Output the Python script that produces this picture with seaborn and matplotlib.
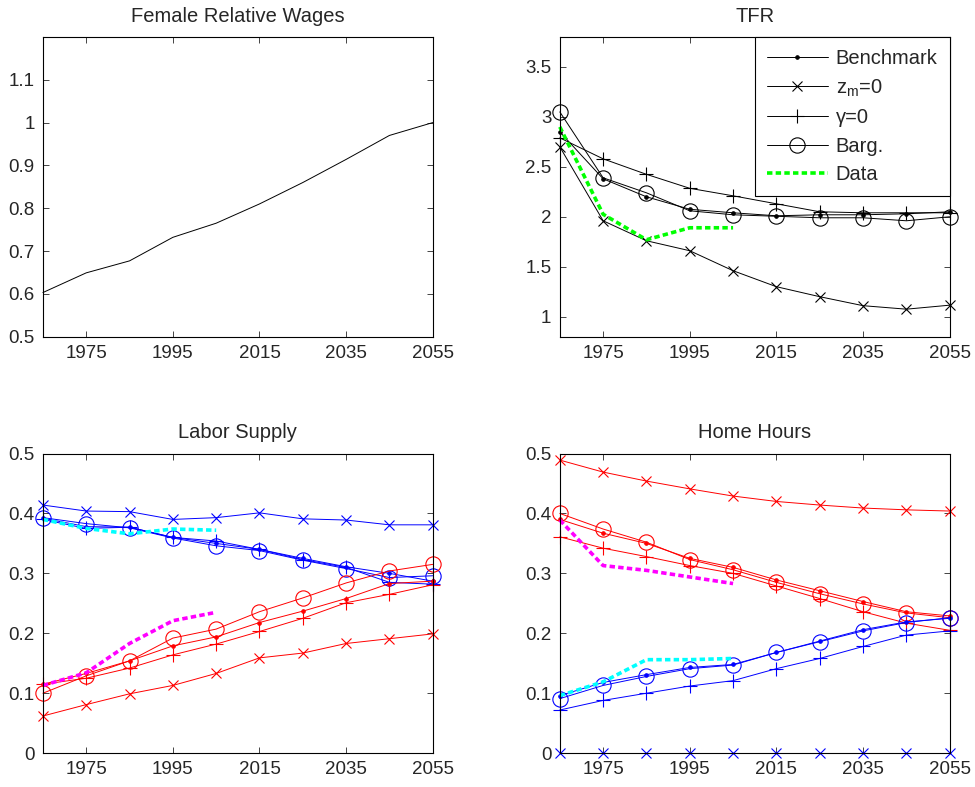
import numpy as np
import pandas as pd
import seaborn as sns
from matplotlib import pyplot as plt

years = [1965, 1975, 1985, 1995, 2005, 2015, 2025, 2035, 2045, 2055]
data_years = [1965, 1975, 1985, 1995, 2005]

# Female relative wages
wages = [0.603, 0.649, 0.677, 0.732, 0.765, 0.810, 0.860, 0.914, 0.970, 1.000]

# TFR
tfr_bench = [2.85, 2.38, 2.20, 2.075, 2.04, 2.01, 2.02, 2.02, 2.03, 2.05]
tfr_zm0 = [2.70, 1.96, 1.76, 1.66, 1.46, 1.30, 1.20, 1.11, 1.075, 1.115]
tfr_gam0 = [2.79, 2.58, 2.425, 2.285, 2.21, 2.13, 2.05, 2.04, 2.04, 2.04]
tfr_barg = [3.05, 2.39, 2.24, 2.06, 2.02, 2.005, 1.99, 1.99, 1.96, 2.00]
tfr_data = [2.90, 2.025, 1.77, 1.89, 1.89]

# Labor supply (blue = male, red = female)
ls_m_bench = [0.392, 0.378, 0.377, 0.360, 0.350, 0.340, 0.325, 0.311, 0.300, 0.287]
ls_m_zm0 = [0.414, 0.404, 0.403, 0.390, 0.393, 0.401, 0.391, 0.389, 0.381, 0.381]
ls_m_gam0 = [0.390, 0.375, 0.377, 0.360, 0.354, 0.340, 0.323, 0.310, 0.285, 0.282]
ls_m_barg = [0.393, 0.383, 0.376, 0.359, 0.346, 0.338, 0.322, 0.308, 0.293, 0.296]
ls_m_data = [0.390, 0.375, 0.366, 0.374, 0.372]
ls_f_bench = [0.115, 0.133, 0.154, 0.179, 0.194, 0.218, 0.237, 0.258, 0.283, 0.287]
ls_f_zm0 = [0.062, 0.081, 0.099, 0.113, 0.133, 0.159, 0.167, 0.183, 0.191, 0.199]
ls_f_gam0 = [0.115, 0.125, 0.142, 0.164, 0.182, 0.203, 0.225, 0.251, 0.265, 0.281]
ls_f_barg = [0.100, 0.129, 0.154, 0.192, 0.207, 0.236, 0.259, 0.284, 0.304, 0.315]
ls_f_data = [0.113, 0.134, 0.183, 0.221, 0.235]

# Home hours
hh_f_bench = [0.390, 0.367, 0.350, 0.325, 0.310, 0.289, 0.271, 0.253, 0.236, 0.229]
hh_f_zm0 = [0.489, 0.469, 0.454, 0.441, 0.429, 0.420, 0.414, 0.409, 0.406, 0.404]
hh_f_gam0 = [0.361, 0.342, 0.328, 0.313, 0.300, 0.279, 0.258, 0.236, 0.217, 0.205]
hh_f_barg = [0.400, 0.374, 0.352, 0.323, 0.306, 0.285, 0.266, 0.249, 0.234, 0.226]
hh_f_data = [0.389, 0.313, 0.305, 0.294, 0.283]
hh_m_bench = [0.096, 0.118, 0.131, 0.143, 0.148, 0.168, 0.187, 0.206, 0.219, 0.225]
hh_m_zm0 = [0, 0, 0, 0, 0, 0, 0, 0, 0, 0]
hh_m_gam0 = [0.072, 0.088, 0.100, 0.112, 0.121, 0.141, 0.158, 0.178, 0.197, 0.204]
hh_m_barg = [0.091, 0.113, 0.128, 0.141, 0.147, 0.168, 0.186, 0.204, 0.218, 0.226]
hh_m_data = [0.096, 0.119, 0.156, 0.156, 0.158]

sns.set_style("ticks")
plt.rcParams['font.family'] = ['Liberation Sans', 'DejaVu Sans']
plt.rcParams['axes.linewidth'] = 0.8

FS = 13.5
TFS = 14.5
LW = 0.7
DOT = (0, (1.5, 0.9))

fig, axes = plt.subplots(2, 2, figsize=(9.75, 7.87), dpi=100)
plt.subplots_adjust(left=0.044, right=0.974, top=0.953, bottom=0.043,
                    wspace=0.326, hspace=0.39)


def draw(ax, y, color, marker, label=None, ms=6, x=years):
    kw = dict(color=color, marker=marker, linewidth=LW, markersize=ms,
              markeredgewidth=0.8, markeredgecolor=color)
    if marker == 'o':
        kw['markerfacecolor'] = 'none'
    if label is not None:
        kw['label'] = label
    sns.lineplot(x=x, y=y, ax=ax, **kw)


def draw_data(ax, y, color, label=None):
    kw = dict(color=color, linewidth=2.6, linestyle=DOT)
    if label is not None:
        kw['label'] = label
    sns.lineplot(x=data_years, y=y, ax=ax, **kw)


def draw_group(ax, bench, zm0, gam0, barg, data, color, dcolor):
    draw(ax, bench, color, '.', ms=5)
    draw(ax, zm0, color, 'x', ms=7)
    draw(ax, gam0, color, '+', ms=10)
    draw(ax, barg, color, 'o', ms=11)
    draw_data(ax, data, dcolor)


def style(ax, title, ylim, yticks):
    ax.set_xlim(1965, 2055)
    ax.set_ylim(*ylim)
    ax.set_xticks([1975, 1995, 2015, 2035, 2055])
    ax.set_yticks(yticks)
    ax.set_yticklabels(['%g' % t for t in yticks])
    ax.tick_params(direction='in', top=True, right=True, length=4,
                   width=0.6, labelsize=FS, pad=6)
    ax.set_title(title, fontsize=TFS, pad=11)
    ax.set_xlabel('')
    ax.set_ylabel('')
    for s in ax.spines.values():
        s.set_visible(True)
        s.set_color('black')


# Female relative wages
ax = axes[0, 0]
draw(ax, wages, 'black', None)
style(ax, 'Female Relative Wages', (0.5, 1.2), [0.5, 0.6, 0.7, 0.8, 0.9, 1.0, 1.1])

# TFR
ax = axes[0, 1]
draw(ax, tfr_bench, 'black', '.', label='Benchmark', ms=5)
draw(ax, tfr_zm0, 'black', 'x', label='z$_\\mathregular{m}$=0', ms=7)
draw(ax, tfr_gam0, 'black', '+', label='\u03b3=0', ms=10)
draw(ax, tfr_barg, 'black', 'o', label='Barg.', ms=11)
draw_data(ax, tfr_data, (0, 1, 0), label='Data')
style(ax, 'TFR', (0.8, 3.8), [1, 1.5, 2, 2.5, 3, 3.5])
leg = ax.legend(loc='upper right', borderaxespad=0, fontsize=TFS,
                handlelength=3.0, handletextpad=0.4, labelspacing=0.47,
                fancybox=False, framealpha=1, edgecolor='black',
                borderpad=0.6)
leg.get_frame().set_linewidth(0.8)

# Labor supply
ax = axes[1, 0]
draw_group(ax, ls_m_bench, ls_m_zm0, ls_m_gam0, ls_m_barg, ls_m_data,
           (0, 0, 1), (0, 1, 1))
draw_group(ax, ls_f_bench, ls_f_zm0, ls_f_gam0, ls_f_barg, ls_f_data,
           (1, 0, 0), (1, 0, 1))
style(ax, 'Labor Supply', (0, 0.5), [0, 0.1, 0.2, 0.3, 0.4, 0.5])

# Home hours
ax = axes[1, 1]
draw_group(ax, hh_f_bench, hh_f_zm0, hh_f_gam0, hh_f_barg, hh_f_data,
           (1, 0, 0), (1, 0, 1))
draw_group(ax, hh_m_bench, hh_m_zm0, hh_m_gam0, hh_m_barg, hh_m_data,
           (0, 0, 1), (0, 1, 1))
style(ax, 'Home Hours', (0, 0.5), [0, 0.1, 0.2, 0.3, 0.4, 0.5])

for a in axes.flat:
    for line in a.lines:
        line.set_clip_on(False)

plt.savefig('out.png', dpi=100)
